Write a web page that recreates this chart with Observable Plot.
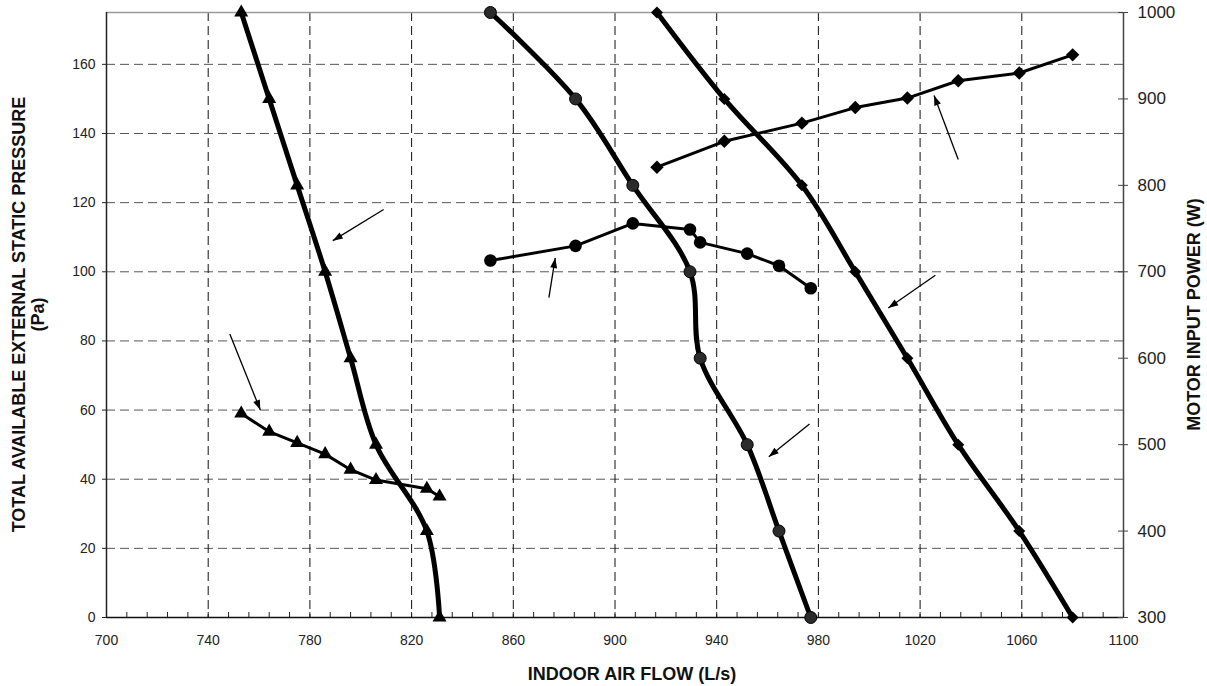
<!DOCTYPE html>
<html>
<head>
<meta charset="utf-8">
<script src="https://cdn.jsdelivr.net/npm/d3@7"></script>
<script src="https://cdn.jsdelivr.net/npm/@observablehq/plot@0.6"></script>
<style>
  html, body { margin: 0; padding: 0; background: #fff; }
  #chart { width: 1207px; height: 686px; }
</style>
</head>
<body>
<div id="chart"></div>
<script>
// ---- data ----
const pressure   = [175, 150, 125, 100, 75, 50, 25, 0];            // Pa (left axis)
const flowTri    = [753, 764, 775, 786, 796, 806, 826, 831];       // L/s
const powerTri   = [536, 515, 502, 489, 471, 459, 449, 440];       // W (right axis)
const flowCirc   = [851, 884.5, 907, 929.5, 933.5, 952, 964.5, 977];
const powerCirc  = [713, 730, 756, 749, 734, 721, 707, 681];
const flowDia    = [916.5, 943, 973.5, 994.5, 1015, 1035, 1059, 1080];
const powerDia   = [821, 851, 872, 890, 901, 921, 930, 951];

// tick labels
const xTicks     = [700, 740, 780, 820, 860, 900, 940, 980, 1020, 1060, 1100];
const yTicks     = [0, 20, 40, 60, 80, 100, 120, 140, 160];
const powerTicks = [300, 400, 500, 600, 700, 800, 900, 1000];
const xGrid      = [740, 780, 820, 860, 900, 940, 980, 1020, 1060];
const yGrid      = [20, 40, 60, 80, 100, 120, 140, 160];

// annotation arrows (flow, pressure) from -> to
const arrowX1 = [809, 748.5, 874, 976.5, 1026, 1035];
const arrowY1 = [118, 82, 92.5, 56, 99, 132.5];
const arrowX2 = [789, 760.5, 876.5, 960.5, 1007.5, 1025.5];
const arrowY2 = [109, 60, 104, 46.5, 89.5, 151];

// ---- relation between the two y axes ----
const pMin = 0, pMax = 175, wMin = 300, wMax = 1000;
const toY = w => pMin + (w - wMin) * (pMax - pMin) / (wMax - wMin);
const fromY = y => wMin + (y - pMin) * (wMax - wMin) / (pMax - pMin);

const tri  = flowTri.map((f, i) => ({flow: f, pa: pressure[i], w: toY(powerTri[i])}));
const circ = flowCirc.map((f, i) => ({flow: f, pa: pressure[i], w: toY(powerCirc[i])}));
const dia  = flowDia.map((f, i) => ({flow: f, pa: pressure[i], w: toY(powerDia[i])}));
const arrows = arrowX1.map((x, i) => ({x1: x, y1: arrowY1[i], x2: arrowX2[i], y2: arrowY2[i]}));
const minorX = d3.range(700, 1101, 8);

const diamond = {
  draw(ctx, size) {
    const h = Math.sqrt(size / Math.PI);
    ctx.moveTo(0, -h); ctx.lineTo(h, 0); ctx.lineTo(0, h); ctx.lineTo(-h, 0); ctx.closePath();
  }
};

const font = "'Liberation Sans', Arial, Helvetica, sans-serif";

const plot = Plot.plot({
  width: 1207,
  height: 686,
  marginLeft: 106,
  marginRight: 84,
  marginTop: 12,
  marginBottom: 69,
  style: {fontFamily: font, fontSize: "14px", color: "#222", background: "#fff", overflow: "visible"},
  x: {domain: [700, 1100]},
  y: {domain: [pMin, pMax]},
  marks: [
    Plot.gridY(yGrid, {stroke: "#555", strokeOpacity: 1, strokeWidth: 1, strokeDasharray: "9,5"}),
    Plot.gridX(xGrid, {stroke: "#111", strokeOpacity: 1, strokeWidth: 1, strokeDasharray: "9,5"}),
    // frame
    Plot.ruleY([pMax], {stroke: "#9a9a9a", strokeWidth: 1.5}),
    Plot.ruleX([1100], {stroke: "#444", strokeWidth: 1.5}),
    Plot.ruleX([700], {stroke: "#222", strokeWidth: 1.5}),
    Plot.ruleY([0], {stroke: "#111", strokeWidth: 1.5}),
    // minor ticks on bottom axis (inside)
    Plot.ruleX(minorX, {y1: 0, y2: 0, insetTop: -5, stroke: "#222", strokeWidth: 1}),
    // left ticks (outside)
    Plot.ruleY(yTicks, {x1: 700, x2: 700, insetLeft: -4, stroke: "#222", strokeWidth: 1}),
    // right ticks (crossing)
    Plot.ruleY(powerTicks.map(toY), {x1: 1100, x2: 1100, insetLeft: -5, insetRight: -5, stroke: "#444", strokeWidth: 1}),
    Plot.axisX({ticks: xTicks, tickFormat: d => String(d), tickSize: 0, tickPadding: 18, label: null, fontSize: 14}),
    Plot.axisY({ticks: yTicks, tickFormat: d => String(d), tickSize: 0, tickPadding: 11, label: null, fontSize: 14}),
    Plot.axisY({anchor: "right", ticks: powerTicks.map(toY), tickFormat: d => String(Math.round(fromY(d))),
                tickSize: 0, tickPadding: 14, label: null, fontSize: 17}),
    // pressure curves (thick, smoothed)
    Plot.line(tri,  {x: "flow", y: "pa", stroke: "#000", strokeWidth: 5, curve: "catmull-rom"}),
    Plot.line(circ, {x: "flow", y: "pa", stroke: "#000", strokeWidth: 5, curve: "catmull-rom"}),
    Plot.line(dia,  {x: "flow", y: "pa", stroke: "#000", strokeWidth: 5, curve: "catmull-rom"}),
    // power curves (thinner, straight)
    Plot.line(tri,  {x: "flow", y: "w", stroke: "#000", strokeWidth: 3}),
    Plot.line(circ, {x: "flow", y: "w", stroke: "#000", strokeWidth: 3}),
    Plot.line(dia,  {x: "flow", y: "w", stroke: "#000", strokeWidth: 3}),
    // markers
    Plot.dot(tri,  {x: "flow", y: "pa", symbol: "triangle", r: 5.2, fill: "#000", stroke: "none"}),
    Plot.dot(tri,  {x: "flow", y: "w",  symbol: "triangle", r: 5.2, fill: "#000", stroke: "none"}),
    Plot.dot(circ, {x: "flow", y: "pa", r: 6, fill: "#2b2b2b", stroke: "#000", strokeWidth: 1}),
    Plot.dot(circ, {x: "flow", y: "w",  r: 6.3, fill: "#000", stroke: "none"}),
    Plot.dot(dia,  {x: "flow", y: "pa", symbol: diamond, r: 6, fill: "#000", stroke: "none"}),
    Plot.dot(dia,  {x: "flow", y: "w",  symbol: diamond, r: 6.7, fill: "#000", stroke: "none"}),
    // annotation arrows
    Plot.link(arrows, {x1: "x1", y1: "y1", x2: "x2", y2: "y2", stroke: "#000", strokeWidth: 1.3, markerEnd: "arrow"})
  ]
});

const svg = d3.select(plot);
// filled arrowheads
svg.selectAll("marker").each(function () {
  const m = d3.select(this);
  m.attr("viewBox", "-11 -4 12 8")
   .attr("markerWidth", 12).attr("markerHeight", 8)
   .attr("markerUnits", "userSpaceOnUse")
   .attr("fill", "#000").attr("stroke", "none");
  m.selectAll("*").remove();
  m.append("path").attr("d", "M-10,-3.5L0,0L-10,3.5Z");
});

// axis titles
const tstyle = g => g.attr("font-family", font).attr("font-weight", "bold").attr("font-size", 18).attr("fill", "#111");
svg.append("text").call(tstyle).attr("x", 632).attr("y", 679.5).attr("text-anchor", "middle")
   .text("INDOOR AIR FLOW (L/s)");
const lt = svg.append("g").attr("transform", "translate(25,314.5) rotate(-90)");
lt.append("text").call(tstyle).attr("text-anchor", "middle").attr("y", 0)
  .text("TOTAL AVAILABLE EXTERNAL STATIC PRESSURE");
lt.append("text").call(tstyle).attr("text-anchor", "middle").attr("y", 19)
  .text("(Pa)");
svg.append("g").attr("transform", "translate(1200,314.5) rotate(-90)")
  .append("text").call(tstyle).attr("text-anchor", "middle").text("MOTOR INPUT POWER (W)");

document.getElementById("chart").appendChild(plot);
</script>
</body>
</html>
